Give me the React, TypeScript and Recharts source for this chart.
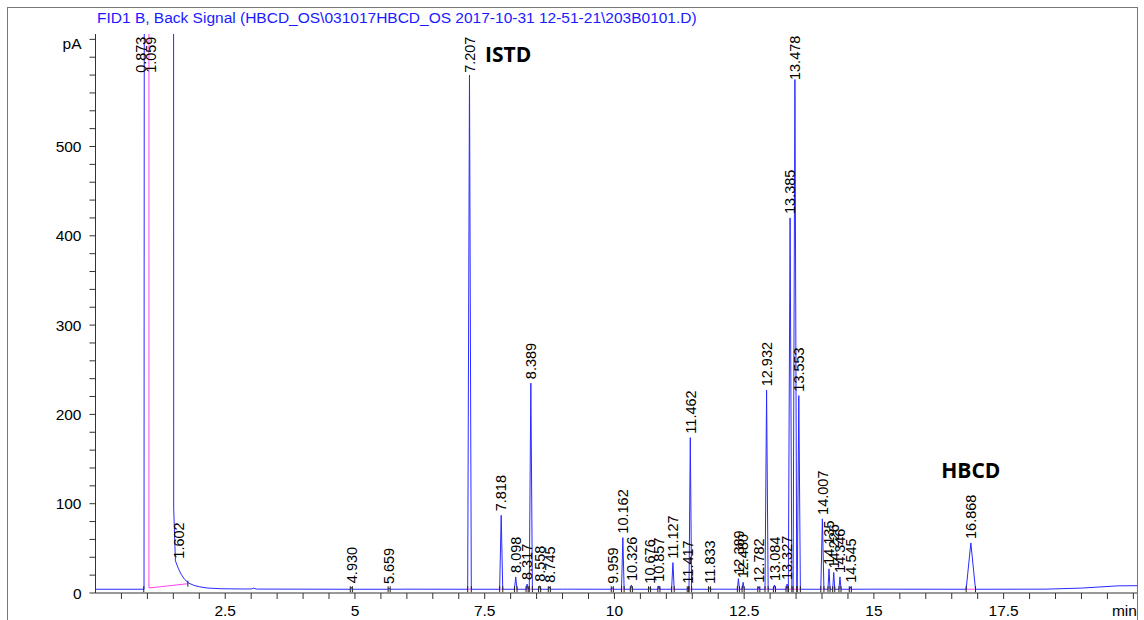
import React from 'react';
import { ComposedChart, Line, Scatter, XAxis, YAxis, ReferenceDot } from 'recharts';

// ---- data ----
const BASELINE = 4.2;

// background trace (solvent front, solvent tail, baseline drift)
const traceTimes = [0, 0.935, 0.95, 1.5, 1.507, 1.54, 1.6, 1.65, 1.72, 1.8, 1.9, 2.0, 2.15, 2.4, 2.8, 3.0, 3.05, 3.1, 6.0, 9.0, 12.0, 15.0, 18.3, 19.0, 19.7, 20.07];
const traceValues = [4.2, 4.2, 2000, 2000, 95, 36, 27, 21, 15, 11, 8.5, 7, 5.6, 4.8, 4.5, 4.5, 5.4, 4.4, 4.3, 4.3, 4.3, 4.3, 4.3, 5.5, 8.0, 8.2];

// labelled peaks
const peakLabels = ['4.930', '5.659', '7.207', '7.818', '8.098', '8.317', '8.389', '8.558', '8.745', '9.959', '10.162', '10.326', '10.676', '10.857', '11.127', '11.417', '11.462', '11.833', '12.389', '12.480', '12.782', '12.932', '13.084', '13.327', '13.385', '13.478', '13.553', '14.007', '14.135', '14.226', '14.346', '14.545', '16.868'];
const peakTimes = [4.93, 5.659, 7.207, 7.818, 8.098, 8.317, 8.389, 8.558, 8.745, 9.959, 10.162, 10.326, 10.676, 10.857, 11.127, 11.417, 11.462, 11.833, 12.389, 12.48, 12.782, 12.932, 13.084, 13.327, 13.385, 13.478, 13.553, 14.007, 14.135, 14.226, 14.346, 14.545, 16.868];
const peakHeights = [6.5, 5.5, 580, 87, 18, 10, 235, 8, 7, 6, 62, 9, 6, 8, 34, 6, 174, 6, 16, 12, 7, 227, 9, 10, 420, 575, 221, 83, 27, 23, 18, 7, 56];
const peakHalfWidths = [0.02, 0.02, 0.035, 0.03, 0.025, 0.02, 0.03, 0.02, 0.02, 0.02, 0.025, 0.02, 0.02, 0.02, 0.025, 0.014, 0.025, 0.02, 0.02, 0.02, 0.02, 0.03, 0.02, 0.02, 0.034, 0.035, 0.03, 0.03, 0.02, 0.02, 0.02, 0.02, 0.09];
// where each label sits (pA); off-scale / tall peaks are clamped by the software
const labelLevels = [6.5, 5.5, 578, 87, 18, 10, 235, 8, 7, 6, 62, 9, 6, 8, 34, 6, 174, 6, 16, 12, 7, 227, 9, 10, 420, 570, 221, 83, 27, 23, 18, 7, 56];

// labels that are not on a triangle peak (solvent front / tail)
const extraLabels = ['0.873', '1.059', '1.602'];
const extraLabelTimes = [0.873, 1.059, 1.602];
const extraLabelLevels = [578, 578, 34];

// integration baseline of the solvent (pink)
const solventBaseTimes = [1.03, 1.03, 1.78];
const solventBaseValues = [2000, 5.6, 10.4];
const solventEventTimes = [0.93, 1.78];
const solventEventValues = [4.2, 10.4];

const xTicks = [0.5, 1, 1.5, 2, 2.5, 3, 3.5, 4, 4.5, 5, 5.5, 6, 6.5, 7, 7.5, 8, 8.5, 9, 9.5, 10, 10.5, 11, 11.5, 12, 12.5, 13, 13.5, 14, 14.5, 15, 15.5, 16, 16.5, 17, 17.5, 18, 18.5, 19, 19.5, 20];
const xTickLabels: Record<string, string> = { '2.5': '2.5', '5': '5', '7.5': '7.5', '10': '10', '12.5': '12.5', '15': '15', '17.5': '17.5', '20': 'min' };
const yTicks = [0, 20, 40, 60, 80, 100, 120, 140, 160, 180, 200, 220, 240, 260, 280, 300, 320, 340, 360, 380, 400, 420, 440, 460, 480, 500, 520, 540, 560, 580, 600, 620];
const yTickLabels: Record<string, string> = { '0': '0', '100': '100', '200': '200', '300': '300', '400': '400', '500': '500', '620': 'pA' };

const TITLE = 'FID1 B, Back Signal (HBCD_OS\\031017HBCD_OS 2017-10-31 12-51-21\\203B0101.D)';

// ---- tables built from the arrays ----
type Pt = { t: number; v: number | null; label?: string };

const trace: Pt[] = (() => {
  const pts: Pt[] = [];
  traceTimes.forEach((t, i) => {
    const inside = peakTimes.some((pt, j) => t > pt - peakHalfWidths[j] && t < pt + peakHalfWidths[j]);
    if (!inside) pts.push({ t, v: traceValues[i] });
  });
  peakTimes.forEach((pt, j) => {
    pts.push({ t: pt - peakHalfWidths[j], v: BASELINE });
    pts.push({ t: pt, v: peakHeights[j] });
    pts.push({ t: pt + peakHalfWidths[j], v: BASELINE });
  });
  return pts.sort((a, b) => a.t - b.t);
})();

const pinkData: Pt[] = (() => {
  const pts: Pt[] = solventBaseTimes.map((t, i) => ({ t, v: solventBaseValues[i] }));
  pts.push({ t: 1.79, v: null });
  peakTimes.forEach((pt, j) => {
    pts.push({ t: pt - peakHalfWidths[j], v: BASELINE });
    pts.push({ t: pt + peakHalfWidths[j], v: BASELINE });
    pts.push({ t: pt + peakHalfWidths[j] + 0.0001, v: null });
  });
  return pts;
})();

const labelData: Pt[] = [
  ...extraLabels.map((l, i) => ({ t: extraLabelTimes[i], v: extraLabelLevels[i], label: l })),
  ...peakLabels.map((l, i) => ({ t: peakTimes[i], v: labelLevels[i], label: l })),
];

const eventData: Pt[] = [
  ...solventEventTimes.map((t, i) => ({ t, v: solventEventValues[i] })),
  ...peakTimes.flatMap((pt, j) => [
    { t: pt - peakHalfWidths[j], v: BASELINE },
    { t: pt + peakHalfWidths[j], v: BASELINE },
  ]),
];

const FONT = '"Liberation Sans", Arial, sans-serif';

const XTick = (props: any) => {
  const { x, y, payload } = props;
  const txt = xTickLabels[String(payload.value)] ?? '';
  if (!txt) return null;
  const isMin = txt === 'min';
  return (
    <text x={isMin ? x + 3.5 : x} y={y} dy="0.71em" textAnchor={isMin ? 'end' : 'middle'} fontFamily={FONT} fontSize={15.5} fill="#000">
      {txt}
    </text>
  );
};

const YTick = (props: any) => {
  const { x, y, payload } = props;
  const txt = yTickLabels[String(payload.value)] ?? '';
  if (!txt) return null;
  const isUnit = txt === 'pA';
  return (
    <text x={x} y={isUnit ? y + 4 : y} dy="0.355em" textAnchor="end" fontFamily={FONT} fontSize={15.5} fill="#000">
      {txt}
    </text>
  );
};

const PeakLabel = (props: any) => {
  const { cx, cy, payload } = props;
  if (cx == null || cy == null) return null;
  const y0 = cy - 4;
  return (
    <text
      x={cx}
      y={y0}
      dy="0.36em"
      transform={`rotate(-90, ${cx}, ${y0})`}
      textAnchor="start"
      fontFamily={FONT}
      fontSize={14.5}
      fill="#000"
    >
      {payload?.label}
    </text>
  );
};

const EventTick = (props: any) => {
  const { cx, cy } = props;
  if (cx == null || cy == null) return null;
  return <line x1={cx} x2={cx} y1={cy - 3} y2={cy + 3} stroke="#222" strokeWidth={1} />;
};

const Annot = (text: string, anchor: 'start' | 'middle') => (props: any) => (
  <text x={props.cx} y={props.cy} textAnchor={anchor} fontFamily='"Open Sans", sans-serif' fontWeight={700} fontSize={21} fill="#000">
    {text}
  </text>
);

export default function App() {
  return (
    <div style={{ position: 'absolute', left: 0, top: 0, width: 1144, height: 620, overflow: 'hidden', background: '#fff' }}>
      <div style={{ position: 'absolute', left: 7, top: 7, width: 1129, height: 640, borderLeft: '1px solid #777', borderTop: '1px solid #777', borderRight: '1px solid #777' }} />
      <div style={{ position: 'absolute', left: 97, top: 9.6, fontFamily: FONT, fontSize: 15.5, lineHeight: '16px', color: '#1a1aff', whiteSpace: 'nowrap' }}>
        {TITLE}
      </div>
      <div style={{ position: 'absolute', left: 0, top: 0 }}>
        <ComposedChart width={1144} height={620} margin={{ top: 34, right: 7, bottom: 0, left: 0 }}>
          <XAxis
            type="number"
            dataKey="t"
            domain={[0, 20.07]}
            ticks={xTicks}
            interval={0}
            allowDataOverflow
            height={27}
            tickSize={6}
            tickMargin={6}
            stroke="#333"
            tick={<XTick />}
          />
          <YAxis
            type="number"
            dataKey="v"
            domain={[0, 626]}
            ticks={yTicks}
            interval={0}
            allowDataOverflow
            width={95.5}
            tickSize={6}
            tickMargin={8}
            stroke="#333"
            tick={<YTick />}
          />
          <Line data={trace} dataKey="v" type="linear" stroke="#2a2aff" strokeWidth={1} dot={false} isAnimationActive={false} />
          <Line data={pinkData} dataKey="v" type="linear" stroke="#ff44ee" strokeWidth={1} dot={false} connectNulls={false} isAnimationActive={false} />
          <Scatter data={eventData} dataKey="v" shape={<EventTick />} isAnimationActive={false} />
          <Scatter data={labelData} dataKey="v" shape={<PeakLabel />} isAnimationActive={false} />
          <ReferenceDot x={7.505} y={595} r={0} shape={Annot('ISTD', 'start')} />
          <ReferenceDot x={16.868} y={129} r={0} shape={Annot('HBCD', 'middle')} />
        </ComposedChart>
      </div>
    </div>
  );
}
